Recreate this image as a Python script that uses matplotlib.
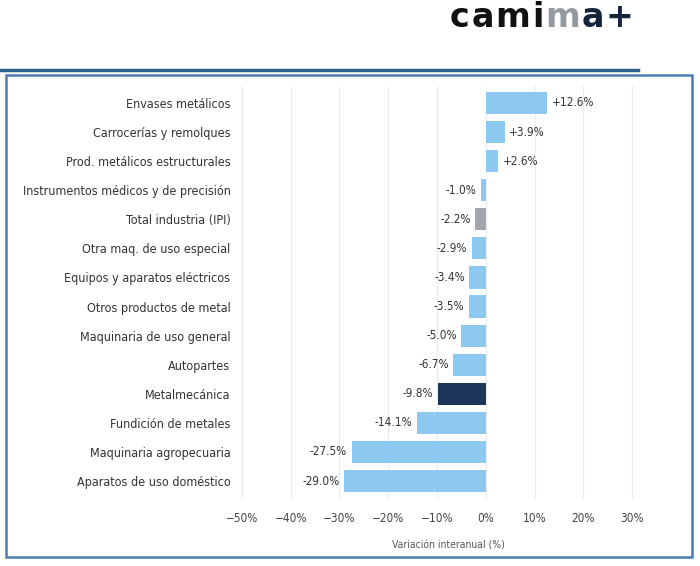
import matplotlib
matplotlib.use("Agg")
import matplotlib.pyplot as plt
from matplotlib.patches import Rectangle
from matplotlib.lines import Line2D
import numpy as np

categories = [
    "Envases metálicos",
    "Carrocerías y remolques",
    "Prod. metálicos estructurales",
    "Instrumentos médicos y de precisión",
    "Total industria (IPI)",
    "Otra maq. de uso especial",
    "Equipos y aparatos eléctricos",
    "Otros productos de metal",
    "Maquinaria de uso general",
    "Autopartes",
    "Metalmecánica",
    "Fundición de metales",
    "Maquinaria agropecuaria",
    "Aparatos de uso doméstico",
]
values = [12.6, 3.9, 2.6, -1.0, -2.2, -2.9, -3.4, -3.5, -5.0, -6.7, -9.8, -14.1, -27.5, -29.0]
ticks = [-50, -40, -30, -20, -10, 0, 10, 20, 30]

light = "#8cc8f0"
colors = []
for c in categories:
    if c == "Total industria (IPI)":
        colors.append("#a3a6ad")
    elif c == "Metalmecánica":
        colors.append("#1c365a")
    else:
        colors.append(light)

fk = dict(fontfamily="DejaVu Sans", fontstretch="condensed")
txt = "#333333"

fig = plt.figure(figsize=(7, 5.66), dpi=100)
W, H = 700, 566

# frame and header line
fig.add_artist(Line2D([0, 638 / W], [1 - 70 / H, 1 - 70 / H], color="#2f5f8f", lw=2.5))
fig.add_artist(Rectangle((6 / W, 1 - 557 / H), 686 / W, 482 / H, fill=False,
                         edgecolor="#4d7bb3", lw=1.8))

ax = fig.add_axes([236 / W, 1 - 498.5 / H, 424 / W, 413 / H])
y = np.arange(len(categories))
ax.barh(y, values, height=0.76, color=colors, zorder=2)
ax.set_ylim(len(categories) - 0.4, -0.6)
ax.set_xlim(-51.2, 35.7)
ax.set_xticks(ticks)
ax.set_xticklabels([("\u2212" if t < 0 else "") + f"{abs(t)}%" for t in ticks],
                   fontsize=8.5, color="#444444", **fk)
ax.set_yticks(y)
ax.set_yticklabels(categories, fontsize=9, color=txt, **fk)
ax.tick_params(length=0, pad=4)
ax.tick_params(axis="x", pad=10)
ax.grid(axis="x", color="#ececec", lw=0.8, zorder=0)
for s in ax.spines.values():
    s.set_visible(False)
ax.set_xlabel("Variación interanual (%)", fontsize=7.5, color="#555555", labelpad=11, **fk)

for yi, v in zip(y, values):
    lab = f"+{v:.1f}%" if v > 0 else f"-{abs(v):.1f}%"
    if v > 0:
        ax.text(v + 0.9, yi, lab, va="center", ha="left", fontsize=8.5, color=txt, **fk)
    else:
        ax.text(v - 0.9, yi, lab, va="center", ha="right", fontsize=8.5, color=txt, **fk)

# logo, letter-spaced
logo = ["c", "a", "m", "i", "m", "a", "+"]
logo_col = ["#111111", "#111111", "#111111", "#111111", "#959aa1", "#14243a", "#14243a"]
lk = dict(fontfamily="DejaVu Sans", fontweight="bold", fontsize=24)
prev = fig.text(450 / W, 1 - 34 / H, logo[0], color=logo_col[0], va="bottom", **lk)
for ch, col in zip(logo[1:], logo_col[1:]):
    prev = ax.annotate(ch, xy=(1, 0), xycoords=prev, xytext=(1.2, 0),
                       textcoords="offset points", va="bottom", ha="left", color=col,
                       annotation_clip=False, **lk)

fig.savefig("out.png", dpi=100)
